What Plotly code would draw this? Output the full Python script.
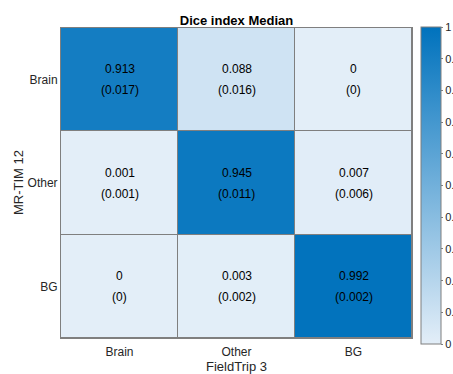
import plotly.graph_objects as go

x_labels = ["Brain", "Other", "BG"]
y_labels = ["Brain", "Other", "BG"]
median_vals = [[0.913, 0.088, 0.0],
               [0.001, 0.945, 0.007],
               [0.0, 0.003, 0.992]]
iqr_vals = [[0.017, 0.016, 0.0],
            [0.001, 0.011, 0.006],
            [0.0, 0.002, 0.002]]
cbar_ticks = [0, 0.1, 0.2, 0.3, 0.4, 0.5, 0.6, 0.7, 0.8, 0.9, 1]

FONT = "Liberation Sans, Arial, Helvetica, sans-serif"

fig = go.Figure()
fig.add_trace(go.Heatmap(
    z=median_vals, x=x_labels, y=y_labels,
    zmin=0, zmax=1,
    colorscale=[[0, "rgb(227,238,248)"], [1, "rgb(0,114,189)"]],
    xgap=1, ygap=1,
    colorbar=dict(
        thickness=20, thicknessmode="pixels",
        len=317, lenmode="pixels",
        x=1.0256, xanchor="left", y=1.003, yanchor="top",
        outlinecolor="#7f7f7f", outlinewidth=1,
        tickvals=cbar_ticks, ticktext=[f"{t:g}" for t in cbar_ticks],
        ticks="outside", ticklen=2, tickcolor="#7f7f7f",
        tickfont=dict(size=11, color="#262626", family=FONT),
        ypad=0, xpad=0,
    ),
    hoverinfo="skip",
))

for i, yl in enumerate(y_labels):
    for j, xl in enumerate(x_labels):
        fig.add_annotation(x=xl, y=yl, text=f"{median_vals[i][j]:g}", showarrow=False,
                           yshift=10.5, font=dict(size=12, color="black", family=FONT))
        fig.add_annotation(x=xl, y=yl, text=f"({iqr_vals[i][j]:g})", showarrow=False,
                           yshift=-10.5, font=dict(size=12, color="black", family=FONT))

# y-axis title as paper-anchored text
fig.add_annotation(text="MR-TIM 12", xref="paper", yref="paper",
                   x=-(61 - 18) / 351, y=0.5, xanchor="center", yanchor="middle",
                   textangle=-90, showarrow=False,
                   font=dict(size=13, color="#262626", family=FONT))

fig.update_layout(
    width=453, height=374,
    margin=dict(l=61, r=41, t=28, b=36, autoexpand=False),
    paper_bgcolor="white", plot_bgcolor="#7f7f7f",
    font=dict(family=FONT, size=12, color="#262626"),
    title=dict(text="<b>Dice index Median</b>", x=(61 + 412) / 2 / 453, xanchor="center",
               y=1 - 20 / 374, yanchor="middle", font=dict(size=13, color="black")),
    xaxis=dict(title=dict(text="FieldTrip 3", standoff=6, font=dict(size=13)),
               showgrid=False, zeroline=False, ticks="", showline=True, linecolor="#7f7f7f",
               mirror=True, tickfont=dict(size=12), ticklabelstandoff=3, automargin=False),
    yaxis=dict(autorange="reversed", showgrid=False, zeroline=False, ticks="",
               showline=True, linecolor="#7f7f7f", mirror=True, tickfont=dict(size=12),
               automargin=False),
)

fig.write_html("out.html", config={"displayModeBar": False},
               post_script="document.body.style.margin='0';document.body.style.overflow='hidden';")
